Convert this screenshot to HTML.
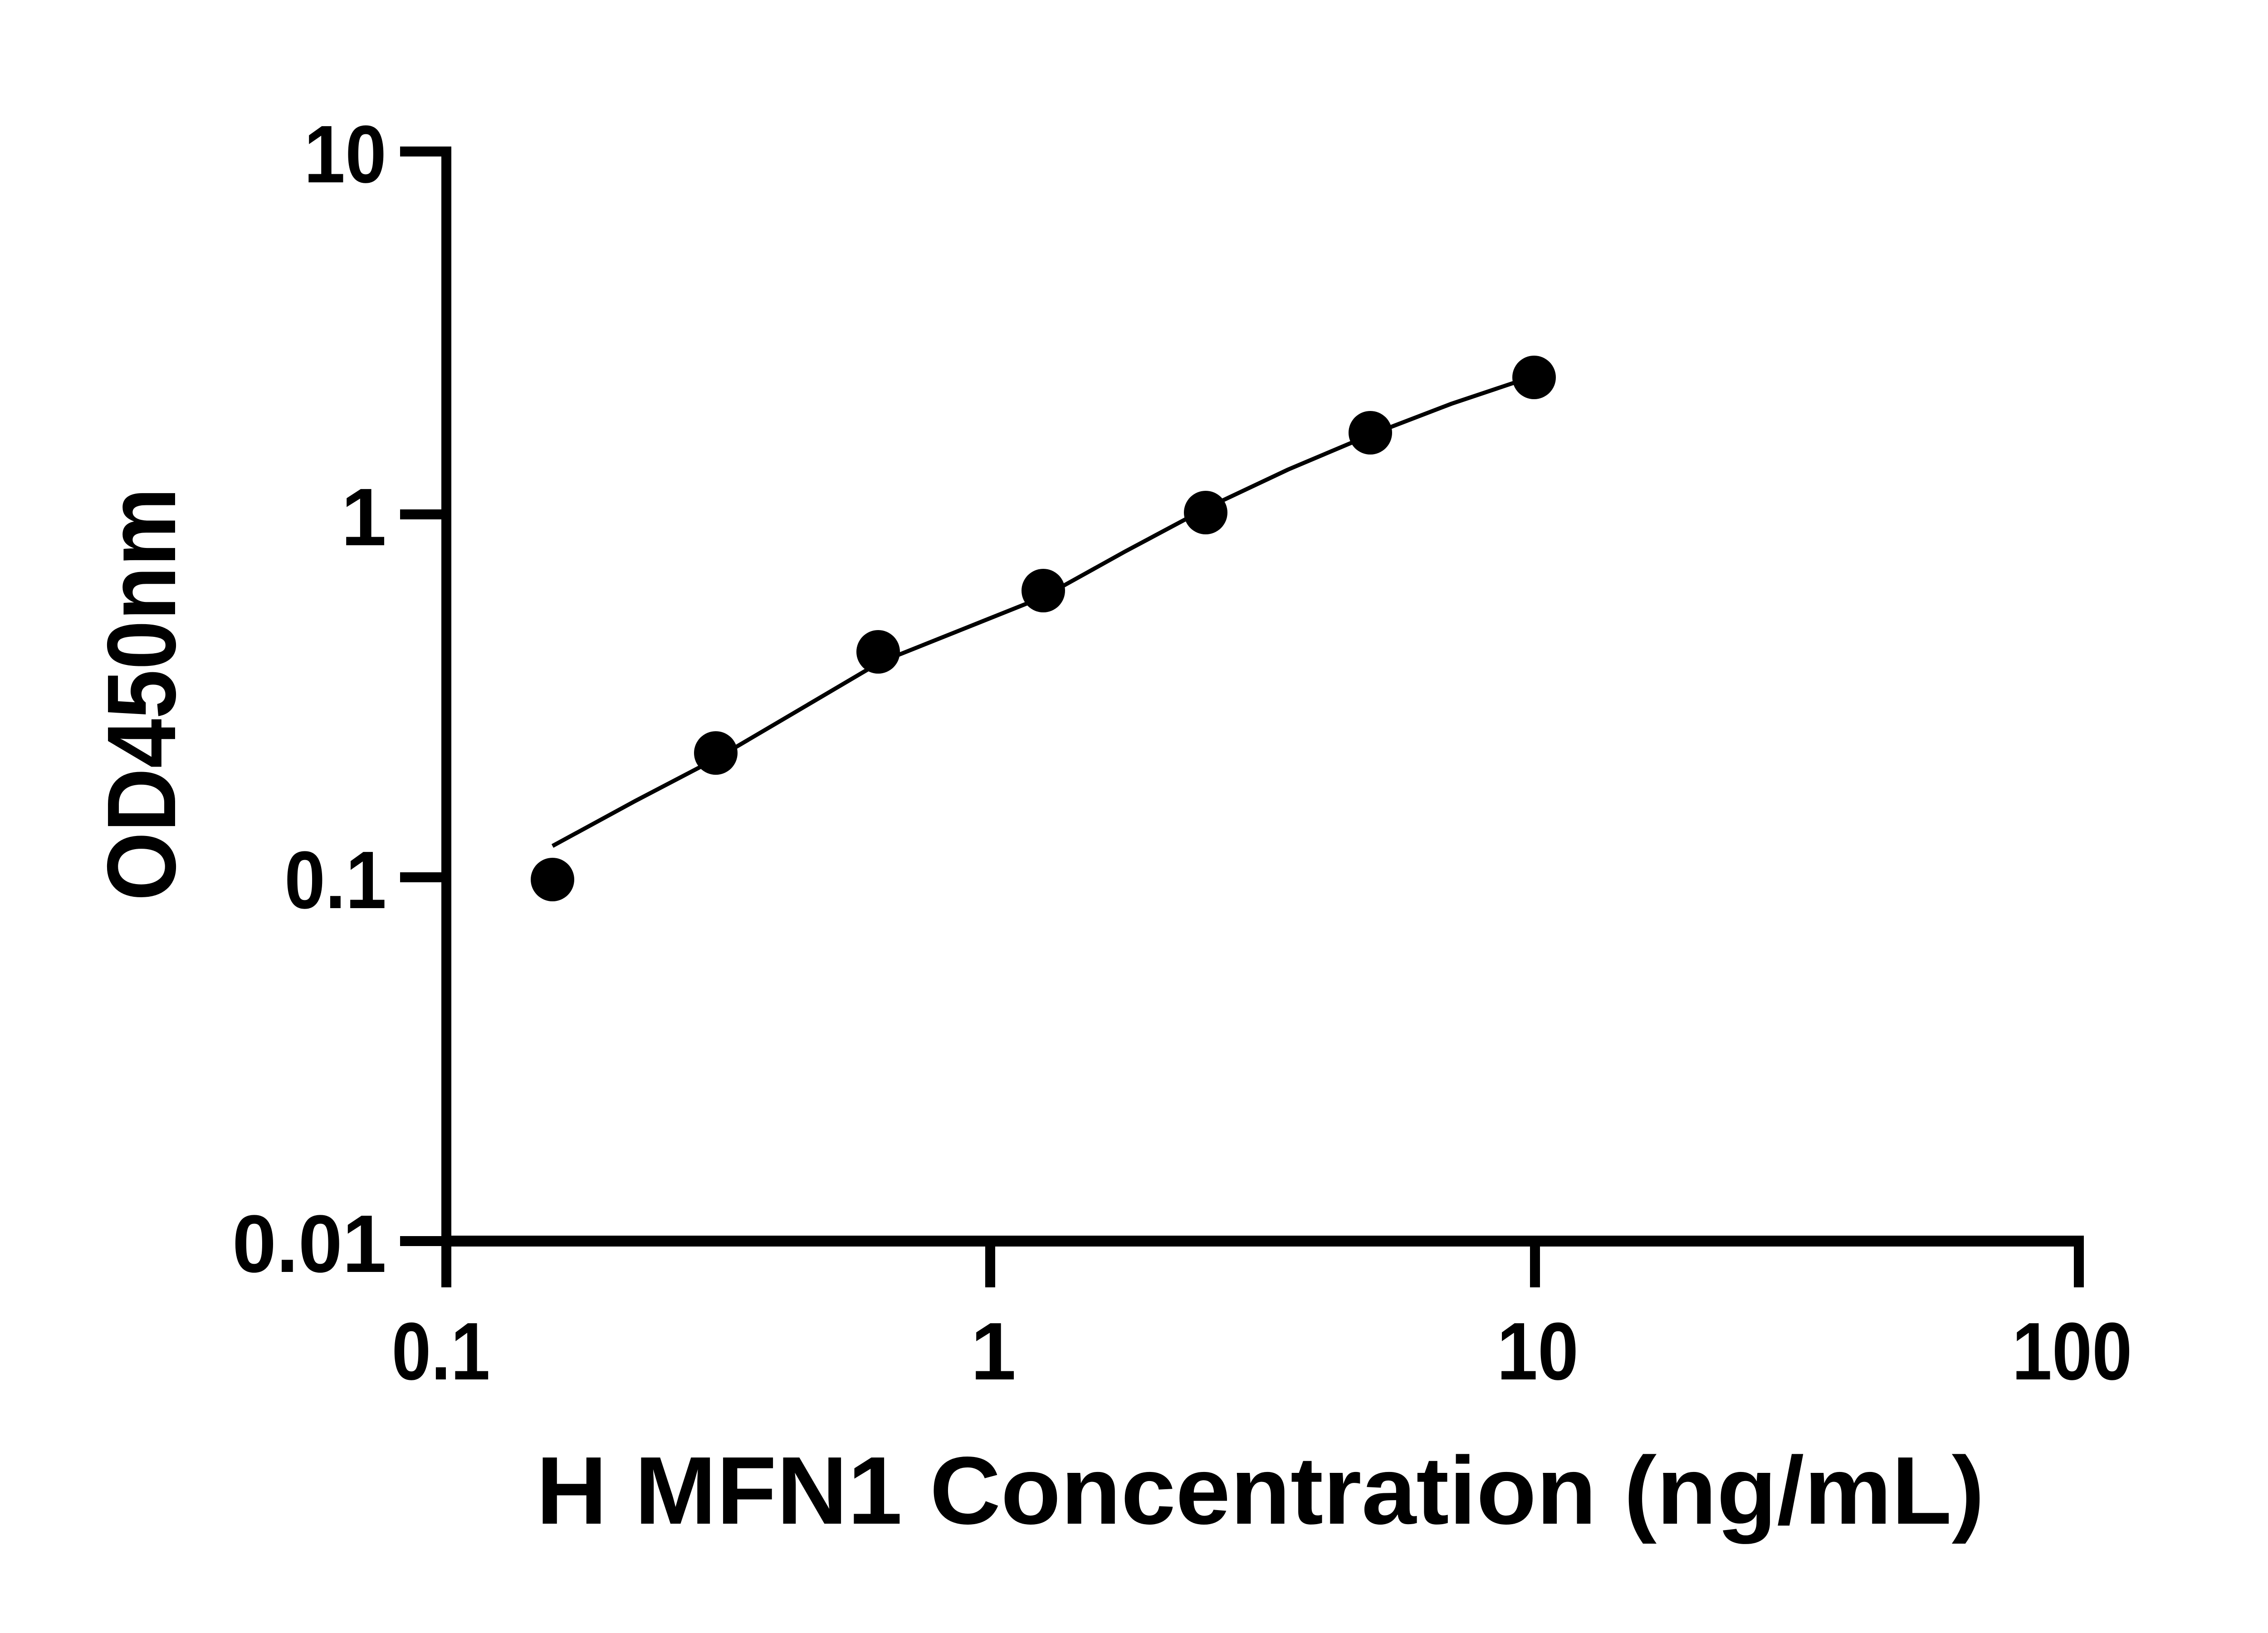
<!DOCTYPE html>
<html><head><meta charset="utf-8"><style>
html,body{margin:0;padding:0;background:#fff;}
svg{display:block;}
text{font-family:"Liberation Sans",Arial,sans-serif;font-weight:bold;fill:#000;}
</style></head><body>
<svg width="5136" height="3600" viewBox="0 0 5136 3600" xmlns="http://www.w3.org/2000/svg">
<rect width="5136" height="3600" fill="#fff"/>
<!-- y axis -->
<line x1="984" y1="323" x2="984" y2="2838" stroke="#000" stroke-width="22"/>
<line x1="882" y1="334" x2="995" y2="334" stroke="#000" stroke-width="22"/>
<line x1="882" y1="1134" x2="984" y2="1134" stroke="#000" stroke-width="22"/>
<line x1="882" y1="1934" x2="984" y2="1934" stroke="#000" stroke-width="22"/>
<line x1="882" y1="2736" x2="984" y2="2736" stroke="#000" stroke-width="22"/>
<!-- x axis -->
<line x1="973" y1="2736" x2="4594" y2="2736" stroke="#000" stroke-width="24"/>
<line x1="2183" y1="2736" x2="2183" y2="2838" stroke="#000" stroke-width="22"/>
<line x1="3384" y1="2736" x2="3384" y2="2838" stroke="#000" stroke-width="22"/>
<line x1="4583" y1="2736" x2="4583" y2="2838" stroke="#000" stroke-width="22"/>
<!-- y tick labels -->
<text x="852" y="402" font-size="180" text-anchor="end" textLength="182" lengthAdjust="spacingAndGlyphs">10</text>
<text x="852" y="1202" font-size="180" text-anchor="end">1</text>
<text x="852" y="2002" font-size="180" text-anchor="end" textLength="225" lengthAdjust="spacingAndGlyphs">0.1</text>
<text x="852" y="2804" font-size="180" text-anchor="end" textLength="340" lengthAdjust="spacingAndGlyphs">0.01</text>
<!-- x tick labels -->
<text x="972" y="3041" font-size="180" text-anchor="middle" textLength="217" lengthAdjust="spacingAndGlyphs">0.1</text>
<text x="2190" y="3041" font-size="180" text-anchor="middle">1</text>
<text x="3390" y="3041" font-size="180" text-anchor="middle" textLength="180" lengthAdjust="spacingAndGlyphs">10</text>
<text x="4568" y="3041" font-size="180" text-anchor="middle" textLength="265" lengthAdjust="spacingAndGlyphs">100</text>
<!-- axis titles -->
<text x="1182" y="3359" font-size="212" textLength="3193" lengthAdjust="spacingAndGlyphs">H MFN1 Concentration (ng/mL)</text>
<text transform="translate(386,1986) rotate(-90)" x="0" y="0" font-size="215" textLength="911" lengthAdjust="spacingAndGlyphs">OD450nm</text>
<!-- curve -->
<path d="M1218,1865 L1400,1766 L1578,1673 L1760,1566 L1940,1460 L2120,1388 L2300,1316 L2480,1216 L2660,1120 L2840,1035 L3020,959 L3200,890 L3382,829" fill="none" stroke="#000" stroke-width="9" stroke-linejoin="round"/>
<!-- points -->
<g fill="#000">
<circle cx="1218" cy="1939" r="48"/>
<circle cx="1578" cy="1660" r="48"/>
<circle cx="1936" cy="1437" r="48"/>
<circle cx="2300" cy="1302" r="48"/>
<circle cx="2658" cy="1130" r="48"/>
<circle cx="3021" cy="954" r="48"/>
<circle cx="3382" cy="832" r="48"/>
</g>
</svg>
</body></html>
